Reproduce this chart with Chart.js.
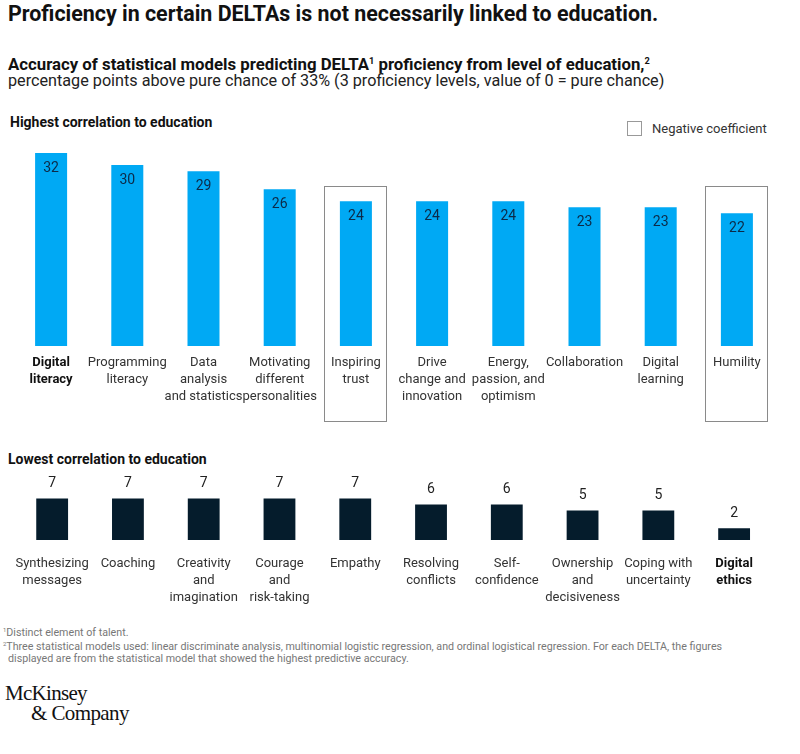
<!DOCTYPE html>
<html><head><meta charset="utf-8">
<script src="https://cdn.jsdelivr.net/npm/chart.js@4"></script>
<style>
body{margin:0;width:800px;height:754px;background:#fff;position:relative;overflow:hidden;font-family:Roboto,"Liberation Sans",sans-serif;color:#111}
.t{position:absolute;white-space:nowrap}
.cw{position:absolute;left:0;width:800px}
sup{font-size:0.55em;vertical-align:0.6em;line-height:0}
</style></head><body>
<div class="t" style="left:8px;top:2px;font-size:21.4px;line-height:24px;font-weight:700;color:#111">Proficiency in certain DELTAs is not necessarily linked to education.</div>
<div class="t" style="left:8px;top:54px;font-size:16.8px;line-height:20px;font-weight:700;color:#111">Accuracy of statistical models predicting DELTA<sup>1</sup> proficiency from level of education,<sup>2</sup></div>
<div class="t" style="left:8px;top:71px;font-size:16.2px;line-height:20px;color:#222">percentage points above pure chance of 33% (3 proficiency levels, value of 0 = pure chance)</div>
<div class="t" style="left:10px;top:113px;font-size:14px;line-height:18px;font-weight:700;color:#111">Highest correlation to education</div>
<div class="t" style="left:627px;top:121px;width:15px;height:15px;border:1px solid #999;box-sizing:border-box"></div>
<div class="t" style="left:652px;top:121px;font-size:13px;line-height:16px;color:#333">Negative coefficient</div>
<div class="t" style="left:8px;top:450px;font-size:14px;line-height:18px;font-weight:700;color:#111">Lowest correlation to education</div>
<div class="t" style="left:3px;top:626px;font-size:10.7px;line-height:13px;color:#777"><sup>1</sup>Distinct element of talent.</div>
<div class="t" style="left:3px;top:640px;font-size:10.7px;line-height:13px;color:#777"><sup>2</sup>Three statistical models used: linear discriminate analysis, multinomial logistic regression, and ordinal logistical regression. For each DELTA, the figures</div>
<div class="t" style="left:8px;top:652px;font-size:10.7px;line-height:13px;color:#777">displayed are from the statistical model that showed the highest predictive accuracy.</div>
<div class="t" style="left:5px;top:681px;font-size:21px;line-height:24px;font-family:'Liberation Serif','DejaVu Serif',serif;letter-spacing:-0.7px;color:#111">McKinsey</div>
<div class="t" style="left:31px;top:701px;font-size:21px;line-height:24px;font-family:'Liberation Serif','DejaVu Serif',serif;letter-spacing:-0.6px;color:#111">&amp; Company</div>

<div class="cw" style="top:141px;height:290px"><canvas id="top" width="800" height="290" style="width:800px;height:290px"></canvas></div>
<div class="cw" style="top:469px;height:146px"><canvas id="bot" width="800" height="146" style="width:800px;height:146px"></canvas></div>

<script>
// ---- data ----
const highLabels = [["Digital","literacy"],["Programming","literacy"],["Data","analysis","and statistics"],["Motivating","different","personalities"],["Inspiring","trust"],["Drive","change and","innovation"],["Energy,","passion, and","optimism"],["Collaboration"],["Digital","learning"],["Humility"]];
const highValues = [32,30,29,26,24,24,24,23,23,22];
const highNegative = [false,false,false,false,true,false,false,false,false,true];
const highBold = [true,false,false,false,false,false,false,false,false,false];

const lowLabels = [["Synthesizing","messages"],["Coaching"],["Creativity","and","imagination"],["Courage","and","risk-taking"],["Empathy"],["Resolving","conflicts"],["Self-","confidence"],["Ownership","and","decisiveness"],["Coping with","uncertainty"],["Digital","ethics"]];
const lowValues = [7,7,7,7,7,6,6,5,5,2];
const lowBold = [false,false,false,false,false,false,false,false,false,true];

const FONT = 'Roboto, "Liberation Sans", sans-serif';
Chart.defaults.font.family = FONT;

function valueLabels(inside, color) {
  return {
    id: 'valueLabels',
    afterDatasetsDraw(chart) {
      const ctx = chart.ctx;
      const meta = chart.getDatasetMeta(0);
      const vals = chart.data.datasets[0].data;
      ctx.save();
      ctx.font = '14px ' + FONT;
      ctx.fillStyle = color;
      ctx.textAlign = 'center';
      ctx.textBaseline = 'middle';
      meta.data.forEach((bar, i) => {
        const y = inside ? bar.y + 15 : bar.y - 15;
        ctx.fillText(String(vals[i]), bar.x, y);
      });
      ctx.restore();
    }
  };
}

const negBoxes = {
  id: 'negBoxes',
  afterDraw(chart) {
    const xs = chart.scales.x, ys = chart.scales.y;
    const cw = xs.width / highLabels.length;
    const ctx = chart.ctx;
    ctx.save();
    ctx.strokeStyle = '#8a8a8a';
    ctx.lineWidth = 1;
    highNegative.forEach((neg, i) => {
      if (!neg) return;
      const cx = xs.getPixelForValue(i) - 1;
      const x0 = Math.round(cx - cw * 0.41) + 0.5;
      const x1 = Math.round(cx + cw * 0.41) + 0.5;
      const y0 = Math.round(ys.getPixelForValue(26.5)) + 0.5;
      const y1 = Math.round(chart.chartArea.bottom + 75) + 0.5;
      ctx.strokeRect(x0, y0, x1 - x0, y1 - y0);
    });
    ctx.restore();
  }
};

function makeChart(id, labels, values, bold, color, yMax, pad, tickPad, plugins) {
  return new Chart(document.getElementById(id), {
    type: 'bar',
    data: { labels: labels, datasets: [{ data: values, backgroundColor: color, barPercentage: 0.42, categoryPercentage: 1 }] },
    options: {
      responsive: false,
      animation: false,
      events: [],
      layout: { padding: pad },
      plugins: { legend: { display: false }, tooltip: { enabled: false } },
      scales: {
        x: {
          grid: { display: false, drawTicks: false },
          border: { display: false },
          ticks: {
            padding: tickPad,
            maxRotation: 0,
            autoSkip: false,
            color: (c) => bold[c.index] ? '#111' : '#333',
            font: (c) => ({ size: 13, lineHeight: '17px', family: FONT, weight: bold[c.index] ? 'bold' : 'normal' })
          }
        },
        y: { display: false, min: 0, max: yMax }
      }
    },
    plugins: plugins
  });
}

makeChart('top', highLabels, highValues, highBold, '#00a9f4', 34, { left: 13, right: 25, top: 0, bottom: 18 }, 8, [valueLabels(true, '#0c2a48'), negBoxes]);
makeChart('bot', lowLabels, lowValues, lowBold, '#051c2c', 12, { left: 10, right: 28, top: 0, bottom: 4 }, 15, [valueLabels(false, '#222')]);
</script>
</body></html>
